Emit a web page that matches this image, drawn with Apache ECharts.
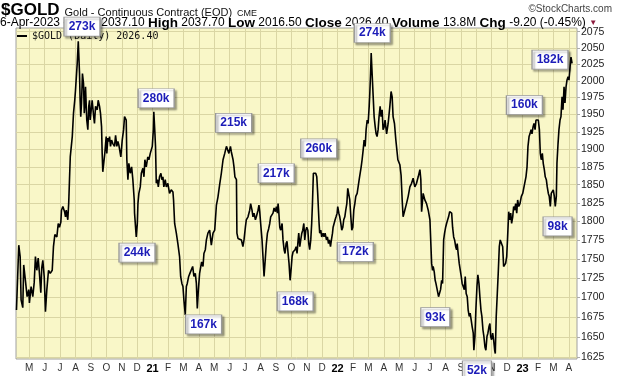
<!DOCTYPE html>
<html>
<head>
<meta charset="utf-8">
<script src="https://cdn.jsdelivr.net/npm/echarts@6/dist/echarts.min.js"></script>
<style>
html,body{margin:0;padding:0;background:#fff;}
#main{width:620px;height:376px;}
</style>
</head>
<body>
<div id="main"></div>
<script>
// x = months since Jan 2020 (12 = Jan 2021), y = price
var gold2020 = [[3.17,1684],[3.32,1768],[3.41,1753],[3.47,1697],[3.58,1687],[3.64,1742],[3.75,1722],[3.86,1701],[3.97,1710],[4.01,1693],[4.12,1714],[4.23,1701],[4.32,1719],[4.40,1753],[4.49,1735],[4.58,1751],[4.66,1731],[4.75,1706],[4.81,1738],[4.88,1748],[4.97,1727],[5.05,1682],[5.14,1710],[5.25,1735],[5.36,1731],[5.49,1735],[5.57,1766],[5.66,1782],[5.79,1779],[5.88,1797],[5.96,1792],[6.05,1799],[6.09,1815],[6.18,1820],[6.29,1813],[6.35,1806],[6.40,1815],[6.50,1802],[6.56,1825],[6.61,1857],[6.66,1889],[6.79,1918],[6.87,1952],[6.95,1971],[7.00,1986],[7.11,2026],[7.18,2060],[7.21,2042],[7.26,2011],[7.30,1971],[7.34,1947],[7.39,1967],[7.45,2011],[7.52,1996],[7.57,1952],[7.60,1962],[7.65,1991],[7.73,1942],[7.80,1928],[7.86,1962],[7.91,1971],[7.95,1942],[8.02,1957],[8.08,1971],[8.17,1949],[8.23,1937],[8.30,1962],[8.34,1964],[8.41,1957],[8.47,1971],[8.56,1962],[8.62,1952],[8.69,1932],[8.73,1894],[8.77,1868],[8.82,1866],[8.90,1894],[8.99,1918],[9.03,1894],[9.10,1916],[9.16,1911],[9.21,1918],[9.27,1904],[9.34,1913],[9.42,1908],[9.53,1904],[9.60,1920],[9.68,1904],[9.75,1911],[9.81,1906],[9.86,1904],[9.94,1889],[10.03,1913],[10.12,1928],[10.18,1947],[10.25,1949],[10.29,1942],[10.33,1885],[10.40,1857],[10.46,1880],[10.55,1866],[10.64,1875],[10.72,1857],[10.81,1829],[10.83,1811],[10.94,1779],[11.01,1797],[11.05,1824],[11.11,1838],[11.20,1847],[11.27,1866],[11.37,1873],[11.44,1861],[11.50,1885],[11.59,1875],[11.69,1889],[11.76,1885],[11.85,1894],[11.92,1892],[11.98,1904]];
var gold2021 = [[12.05,1928],[12.08,1954],[12.15,1923],[12.19,1904],[12.24,1852],[12.31,1857],[12.37,1847],[12.45,1861],[12.54,1866],[12.60,1857],[12.67,1861],[12.73,1847],[12.82,1857],[12.89,1847],[12.99,1852],[13.10,1838],[13.21,1843],[13.32,1840],[13.36,1829],[13.43,1797],[13.54,1784],[13.64,1770],[13.75,1753],[13.82,1727],[13.90,1718],[13.97,1714],[14.03,1697],[14.12,1678],[14.19,1714],[14.25,1718],[14.34,1727],[14.42,1731],[14.51,1733],[14.60,1740],[14.68,1727],[14.77,1731],[14.84,1718],[14.90,1686],[14.97,1710],[15.05,1731],[15.12,1733],[15.18,1746],[15.27,1740],[15.33,1757],[15.42,1762],[15.49,1775],[15.59,1784],[15.70,1788],[15.81,1768],[15.92,1784],[16.03,1788],[16.14,1822],[16.24,1833],[16.35,1850],[16.46,1866],[16.57,1885],[16.68,1894],[16.79,1904],[16.89,1906],[16.95,1894],[17.05,1904],[17.11,1896],[17.18,1894],[17.22,1885],[17.28,1875],[17.34,1861],[17.44,1857],[17.47,1784],[17.54,1777],[17.65,1779],[17.76,1775],[17.86,1766],[17.93,1775],[18.02,1792],[18.08,1802],[18.19,1806],[18.30,1815],[18.36,1824],[18.45,1815],[18.51,1806],[18.58,1811],[18.67,1802],[18.73,1806],[18.84,1815],[18.90,1822],[18.95,1813],[19.01,1797],[19.10,1775],[19.16,1753],[19.23,1727],[19.29,1744],[19.38,1770],[19.45,1784],[19.53,1790],[19.60,1797],[19.66,1806],[19.75,1806],[19.81,1811],[19.88,1818],[19.97,1813],[20.03,1820],[20.10,1811],[20.14,1824],[20.18,1815],[20.25,1792],[20.31,1788],[20.40,1797],[20.46,1775],[20.53,1762],[20.59,1757],[20.66,1770],[20.72,1773],[20.79,1757],[20.85,1744],[20.92,1722],[20.98,1735],[21.05,1753],[21.11,1759],[21.18,1757],[21.24,1762],[21.31,1766],[21.37,1757],[21.44,1775],[21.48,1784],[21.55,1766],[21.61,1775],[21.68,1784],[21.74,1788],[21.81,1797],[21.87,1775],[21.94,1788],[22.00,1792],[22.07,1788],[22.13,1770],[22.19,1762],[22.26,1775],[22.32,1797],[22.37,1824],[22.43,1866],[22.52,1868],[22.58,1866],[22.65,1861],[22.71,1838],[22.80,1797],[22.84,1784],[22.91,1788],[22.97,1779],[23.06,1784],[23.12,1779],[23.19,1784],[23.28,1775],[23.34,1779],[23.41,1770],[23.47,1775],[23.54,1766],[23.60,1775],[23.67,1784],[23.71,1792],[23.77,1790],[23.84,1802],[23.90,1806],[23.97,1811]];
var gold2022 = [[24.01,1820],[24.08,1811],[24.14,1806],[24.21,1797],[24.27,1788],[24.34,1792],[24.40,1802],[24.47,1806],[24.53,1815],[24.60,1824],[24.66,1845],[24.73,1843],[24.79,1829],[24.86,1806],[24.92,1788],[24.99,1792],[25.05,1815],[25.12,1824],[25.18,1834],[25.27,1838],[25.40,1857],[25.53,1875],[25.59,1885],[25.66,1899],[25.72,1913],[25.79,1904],[25.85,1928],[25.92,1942],[25.98,1937],[26.05,1962],[26.09,1981],[26.14,2011],[26.18,2042],[26.22,2021],[26.27,1996],[26.31,1976],[26.37,1947],[26.44,1932],[26.50,1922],[26.56,1918],[26.63,1928],[26.69,1947],[26.76,1962],[26.82,1947],[26.89,1957],[26.95,1928],[27.02,1932],[27.08,1942],[27.18,1922],[27.28,1937],[27.39,1962],[27.47,1984],[27.54,1976],[27.60,1947],[27.69,1937],[27.78,1913],[27.91,1885],[28.04,1878],[28.12,1863],[28.19,1829],[28.25,1806],[28.36,1815],[28.47,1824],[28.58,1834],[28.69,1847],[28.80,1852],[28.90,1859],[29.01,1847],[29.12,1852],[29.23,1861],[29.34,1871],[29.40,1857],[29.45,1813],[29.55,1838],[29.66,1829],[29.77,1824],[29.88,1815],[29.99,1802],[30.05,1770],[30.10,1744],[30.16,1735],[30.20,1740],[30.27,1733],[30.33,1722],[30.38,1718],[30.46,1710],[30.55,1701],[30.62,1699],[30.68,1710],[30.75,1722],[30.81,1718],[30.88,1775],[30.94,1784],[31.01,1792],[31.07,1797],[31.14,1802],[31.20,1806],[31.27,1813],[31.33,1815],[31.40,1811],[31.46,1792],[31.53,1779],[31.59,1775],[31.66,1766],[31.72,1762],[31.76,1770],[31.82,1757],[31.89,1744],[31.96,1735],[32.02,1727],[32.08,1718],[32.15,1714],[32.22,1710],[32.28,1727],[32.34,1705],[32.41,1701],[32.47,1684],[32.54,1676],[32.60,1680],[32.67,1671],[32.73,1663],[32.80,1655],[32.84,1634],[32.91,1651],[32.97,1684],[33.04,1714],[33.10,1729],[33.17,1718],[33.23,1701],[33.30,1684],[33.36,1676],[33.43,1659],[33.49,1651],[33.56,1638],[33.62,1634],[33.69,1651],[33.75,1655],[33.82,1663],[33.88,1667],[33.93,1651],[33.99,1647],[34.06,1655],[34.12,1647],[34.19,1634],[34.23,1630],[34.29,1676],[34.36,1705],[34.42,1731],[34.49,1766],[34.55,1775],[34.64,1775],[34.71,1766],[34.77,1740],[34.84,1740],[34.90,1744],[34.97,1753],[35.03,1779],[35.10,1813],[35.16,1802],[35.23,1811],[35.29,1797],[35.36,1806],[35.42,1820],[35.49,1815],[35.55,1824],[35.62,1811],[35.68,1829],[35.75,1820],[35.83,1824],[35.92,1834]];
var gold2023 = [[36.01,1838],[36.09,1836],[36.22,1861],[36.29,1875],[36.35,1904],[36.42,1918],[36.48,1922],[36.55,1928],[36.61,1922],[36.68,1932],[36.74,1937],[36.81,1928],[36.87,1942],[36.96,1944],[37.02,1942],[37.09,1928],[37.15,1894],[37.21,1885],[37.28,1894],[37.34,1880],[37.41,1871],[37.47,1861],[37.54,1857],[37.60,1847],[37.67,1838],[37.73,1834],[37.80,1820],[37.86,1838],[37.99,1843],[38.06,1834],[38.12,1820],[38.19,1834],[38.23,1880],[38.30,1908],[38.36,1928],[38.43,1942],[38.49,1947],[38.56,1976],[38.62,1957],[38.69,1991],[38.75,1967],[38.82,1991],[38.88,2001],[38.95,2006],[39.01,2001],[39.08,2021],[39.14,2036],[39.21,2026.4]];

// volume call-outs: label, month, price the box is pinned to
var volumeNotes = [['273k',7.42,2080],['280k',12.23,1974],['244k',10.99,1758],['167k',15.31,1666],['215k',17.26,1938],['217k',20.02,1866],['260k',22.78,1901],['274k',26.25,2073],['168k',21.25,1695],['172k',25.15,1759],['160k',36.12,1964],['182k',37.78,2032],['93k',30.34,1675],['98k',38.27,1793],['52k',33.04,1624]];
// boxes that hang over the plot edge get pushed out by a few pixels
var noteShift = {'273k': -2, '52k': 12};

var priceTicks = [1625,1650,1675,1700,1725,1750,1775,1800,1825,1850,1875,1900,1925,1950,1975,2000,2025,2050,2075];
var monthTicks = [4,5,6,7,8,9,10,11,12,13,14,15,16,17,18,19,20,21,22,23,24,25,26,27,28,29,30,31,32,33,34,35,36,37,38,39];
var monthLetters = ['J','F','M','A','M','J','J','A','S','O','N','D'];
var xRange = [3.14, 39.53];
var yRange = [1623.3, 2080.8];
var quote = {date:'6-Apr-2023', open:'2037.10', high:'2037.70', low:'2016.50', close:'2026.40', volume:'13.8M', chg:'-9.20', pct:'-0.45%'};

var myChart = echarts.init(document.getElementById('main'));
var ln = Math.log;
var seriesName = '$GOLD (Daily) ' + quote.close;

var lineData = gold2020.concat(gold2021, gold2022, gold2023).map(function (d) {
    return [d[0], ln(d[1])];
});
var notes = volumeNotes.map(function (n) {
    return {
        name: n[0],
        coord: [n[1], ln(n[2])],
        symbolSize: [n[0].length > 3 ? 36 : 29, 19],
        symbolOffset: [0, noteShift[n[0]] || 0]
    };
});

var option = {
    animation: false,
    backgroundColor: '#ffffff',
    textStyle: {fontFamily: 'Liberation Sans'},
    title: [{
        left: 1, top: 1, padding: 0,
        text: '{t|$GOLD} {s|Gold - Continuous Contract (EOD)} {c|CME}',
        textStyle: {
            fontWeight: 'normal',
            rich: {
                t: {fontFamily: 'Liberation Sans', fontWeight: 'bold', fontSize: 17, color: '#000', verticalAlign: 'bottom'},
                s: {fontFamily: 'Liberation Sans', fontWeight: 'normal', fontSize: 11, color: '#111', verticalAlign: 'bottom', padding: [0, 0, 1, 0]},
                c: {fontFamily: 'Liberation Sans', fontWeight: 'normal', fontSize: 9, color: '#111', verticalAlign: 'bottom', padding: [0, 0, 1, 0]}
            }
        }
    }, {
        right: 8, top: 4, padding: 0,
        text: '\u00a9StockCharts.com',
        textStyle: {fontFamily: 'Liberation Sans', fontSize: 10, fontWeight: 'normal', color: '#444'}
    }, {
        left: 0, top: 16, padding: 0,
        text: quote.date + ' {b|Open} ' + quote.open + ' {b|High} ' + quote.high + ' {b|Low} ' + quote.low +
            ' {b|Close} ' + quote.close + ' {b|Volume} ' + quote.volume + ' {b|Chg} ' + quote.chg + ' (' + quote.pct + ') {r|\u25bc}',
        textStyle: {
            fontFamily: 'Liberation Sans', fontSize: 12, fontWeight: 'normal', color: '#000',
            rich: {
                b: {fontFamily: 'Liberation Sans', fontWeight: 'bold', fontSize: 13.5, color: '#000'},
                r: {fontSize: 8, color: '#8b1a3c'}
            }
        }
    }],
    legend: {
        left: 17, top: 31, padding: 0,
        icon: 'rect', itemWidth: 10, itemHeight: 2, itemGap: 4,
        textStyle: {fontFamily: 'DejaVu Sans Mono', fontSize: 10, color: '#111'},
        data: [seriesName]
    },
    grid: {
        left: 16, right: 43, top: 28, bottom: 17,
        show: true, backgroundColor: '#f9f7c8', borderColor: '#a0a0a0', borderWidth: 1
    },
    xAxis: {
        type: 'value',
        min: xRange[0], max: xRange[1],
        axisLine: {show: false},
        axisTick: {show: false, customValues: monthTicks},
        axisLabel: {
            customValues: monthTicks,
            margin: 4, color: '#333', fontSize: 10,
            formatter: function (v) {
                var m = Math.round(v);
                if (m % 12 === 0) return '{yr|' + String(2020 + m / 12).slice(2) + '}';
                return monthLetters[m % 12];
            },
            rich: {yr: {fontWeight: 'bold', fontSize: 11, color: '#000'}}
        },
        splitLine: {show: true, lineStyle: {color: '#dad6a4', width: 1}}
    },
    yAxis: {
        type: 'value',
        position: 'right',
        min: ln(yRange[0]), max: ln(yRange[1]),
        axisLine: {show: false},
        axisTick: {show: true, length: 3, customValues: priceTicks.map(ln), lineStyle: {color: '#aaa'}},
        axisLabel: {
            customValues: priceTicks.map(ln),
            margin: 4, color: '#222', fontSize: 10.5,
            formatter: function (v) { return String(Math.round(Math.exp(v))); }
        },
        splitLine: {show: true, lineStyle: {color: '#dad6a4', width: 1}}
    },
    series: [{
        name: seriesName,
        type: 'line',
        data: lineData,
        showSymbol: false,
        clip: false,
        color: '#000',
        lineStyle: {color: '#000', width: 1.6},
        markPoint: {
            z: 10,
            symbol: 'rect',
            itemStyle: {
                color: '#fff', borderColor: '#999', borderWidth: 1,
                shadowColor: 'rgba(0,0,0,0.35)', shadowBlur: 2, shadowOffsetX: 2, shadowOffsetY: 2
            },
            label: {
                show: true, position: 'inside', formatter: '{b}',
                color: '#1c1cb8', fontWeight: 'bold', fontSize: 12, fontFamily: 'Liberation Sans'
            },
            data: notes
        }
    }]
};

myChart.setOption(option);
</script>
</body>
</html>
